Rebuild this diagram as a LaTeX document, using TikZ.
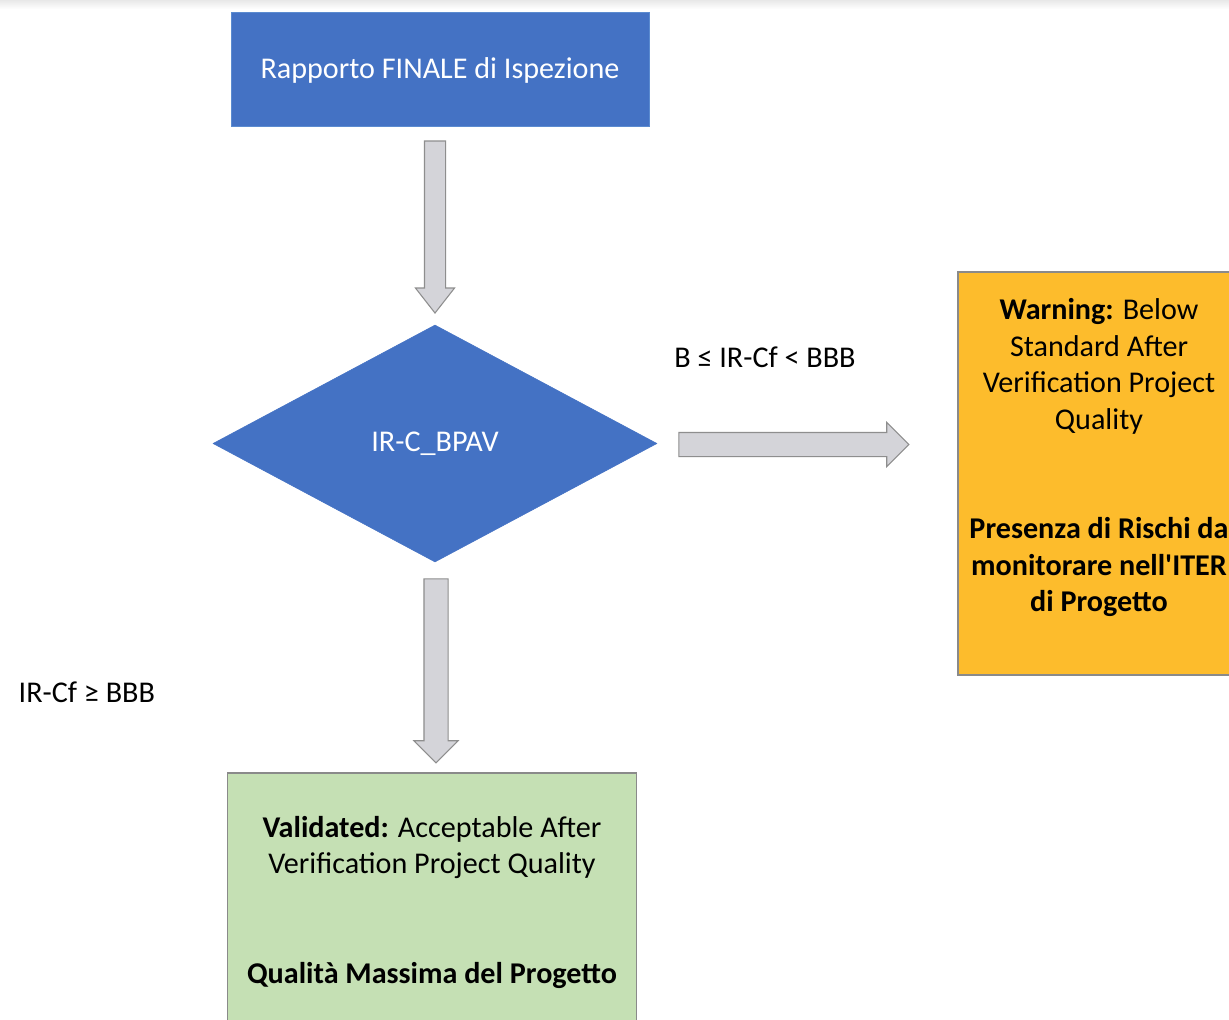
\documentclass[tikz,border=0pt]{standalone}
\usepackage{fontspec}
\setmainfont{Carlito}
\usepackage{tikz}
\usetikzlibrary{shapes.geometric, shapes.arrows, calc}
\definecolor{boxblue}{HTML}{4472C4}
\definecolor{boxblueline}{HTML}{5B8BD0}
\definecolor{warnorange}{HTML}{FDBC2C}
\definecolor{okgreen}{HTML}{C5E0B4}
\definecolor{boxline}{HTML}{8A8A8A}
\definecolor{arrowfill}{HTML}{D4D4D9}
\definecolor{arrowline}{HTML}{8E8E8E}
\newcommand{\pxl}{0.75pt}

\begin{document}
\begin{tikzpicture}[x=0.75pt, y=-0.75pt,
    txt/.style={font=\fontsize{22.6}{27.4}\selectfont},
    bluebox/.style={txt, rectangle, fill=boxblue, draw=boxblueline, line width=0.75pt, text=white, inner sep=0pt},
    decision/.style={txt, diamond, fill=boxblue, draw=boxblue, text=white, inner sep=0pt, aspect=1.87},
    resultbox/.style={txt, rectangle, draw=boxline, line width=0.9pt, align=center, inner sep=0pt},
    blockarrow/.style={single arrow, draw=arrowline, fill=arrowfill, line width=0.8pt, inner xsep=0pt, inner ysep=10*\pxl, minimum width=0pt, single arrow head extend=9*\pxl, single arrow head indent=0pt, anchor=tail}]
            % Page
            \clip (0,0) rectangle (1229,1020);
            \fill[white] (0,0) rectangle (1229,1020);
            \shade[top color=black!9, bottom color=white] (0,0) rectangle (1229,9);

            % Boxes
            \node[bluebox, minimum width=418*\pxl, minimum height=114*\pxl] (rapporto) at (440,70) {Rapporto FINALE di Ispezione};
            \node[decision, minimum width=444*\pxl, minimum height=237*\pxl] (dec) at (435,443.5) {IR-C\_BPAV};
            \node[resultbox, fill=warnorange, minimum width=282*\pxl, minimum height=403*\pxl] (warn) at (1099,473.5)
                {\textbf{Warning:} Below\\ Standard After\\ Verification Project\\ Quality\\ ~\\ ~\\
                 \textbf{Presenza di Rischi da}\\ \textbf{monitorare nell\textquotesingle ITER}\\ \textbf{di Progetto}\\ ~};
            \node[resultbox, fill=okgreen, minimum width=409*\pxl, minimum height=290*\pxl] (valid) at (432,918)
                {\textbf{Validated:} Acceptable After\\ Verification Project Quality\\ ~\\ ~\\
                 \textbf{Qualità Massima del Progetto}\\ ~};

            % Arrows
            \node[blockarrow, rotate=-90, minimum height=172*\pxl, single arrow tip angle=76] (arrtop) at ($(rapporto.south -| dec.north)+(0,13)$) {};
            \node[blockarrow, rotate=-90, minimum height=184*\pxl, single arrow head extend=10*\pxl, inner ysep=11.5*\pxl] (arrdown) at ($(dec.south)+(1,16)$) {};
            \node[blockarrow, minimum height=230*\pxl, single arrow head extend=10*\pxl, inner ysep=11.5*\pxl] (arrright) at ($(dec.east)+(21,1)$) {};

            % Conditions
            \node[txt] (condwarn) at (765,357) {B ≤ IR-Cf < BBB};
            \node[txt, anchor=west] (condok) at (14,692) {IR-Cf ≥ BBB};
        \end{tikzpicture}
\end{document}
